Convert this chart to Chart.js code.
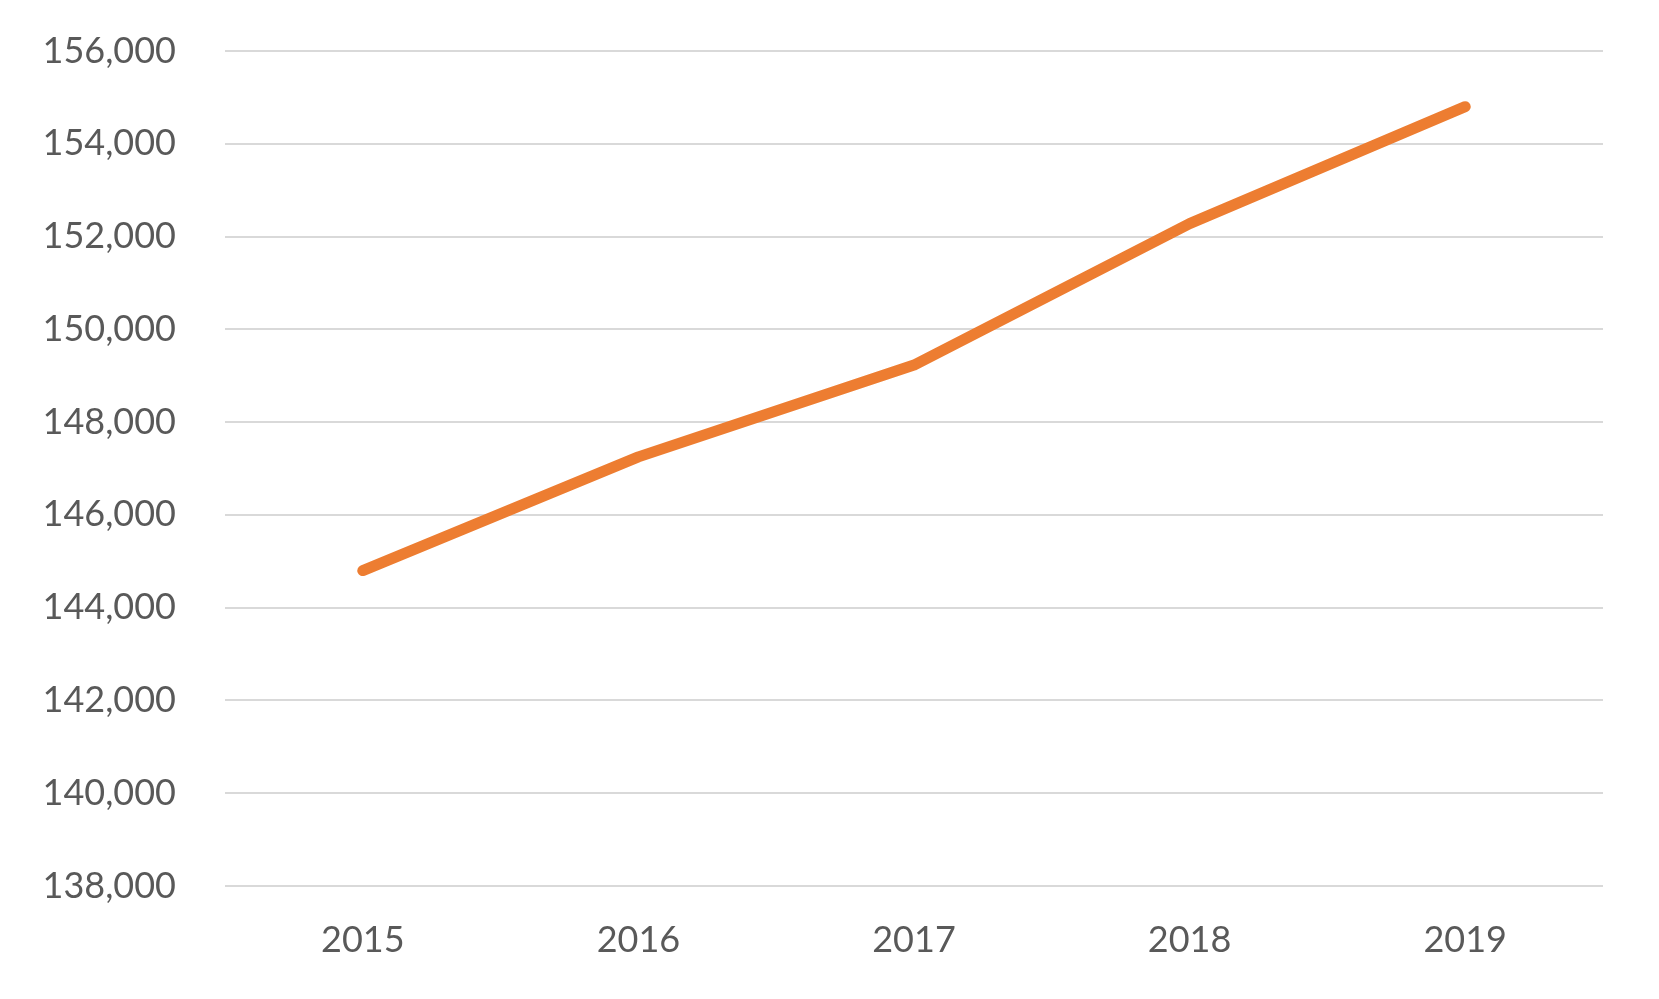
<!DOCTYPE html>
<html>
<head>
<meta charset="utf-8">
<script src="https://cdn.jsdelivr.net/npm/chart.js@4.4.1/dist/chart.umd.min.js"></script>
<style>
  html, body { margin: 0; padding: 0; background: #fff; }
  #wrap { width: 1659px; height: 999px; position: relative; }
</style>
</head>
<body>
<div id="wrap"><canvas id="lineChart"></canvas></div>
<script>
// Tahun dan nilai
const years = ["2015", "2016", "2017", "2018", "2019"];
const values = [144800, 147250, 149230, 152280, 154800];

// Rentang sumbu Y
const yMin = 138000;
const yMax = 156000;
const yStep = 2000;

const ctx = document.getElementById('lineChart').getContext('2d');
const lineChart = new Chart(ctx, {
    type: 'line',
    data: {
        labels: years,
        datasets: [{
            data: values,
            borderColor: '#ED7D31',
            backgroundColor: '#ED7D31',
            borderWidth: 11,
            borderCapStyle: 'round',
            borderJoinStyle: 'round',
            pointRadius: 0,
            tension: 0,
            fill: false
        }]
    },
    options: {
        responsive: true,
        maintainAspectRatio: false,
        animation: false,
        layout: { padding: { top: 51, right: 56, left: 0, bottom: 0 } },
        plugins: {
            legend: { display: false },
            tooltip: { enabled: false }
        },
        scales: {
            x: {
                offset: true,
                grid: { display: false },
                border: { display: false },
                ticks: {
                    color: '#595959',
                    font: { family: 'Lato', size: 36 },
                    padding: 25
                },
                afterFit: (scale) => { scale.height = 113; }
            },
            y: {
                min: yMin,
                max: yMax,
                grid: { color: '#d9d9d9', lineWidth: 2, drawTicks: false },
                border: { display: false },
                ticks: {
                    stepSize: yStep,
                    color: '#595959',
                    font: { family: 'Lato', size: 36 },
                    padding: 49,
                    callback: (value) => value.toLocaleString('en-US')
                },
                afterFit: (scale) => {
                    scale.width = 225;
                    // jangan biarkan padding label menggeser area grafik
                    scale.paddingTop = 0;
                    scale.paddingBottom = 0;
                }
            }
        }
    }
});
</script>
</body>
</html>
